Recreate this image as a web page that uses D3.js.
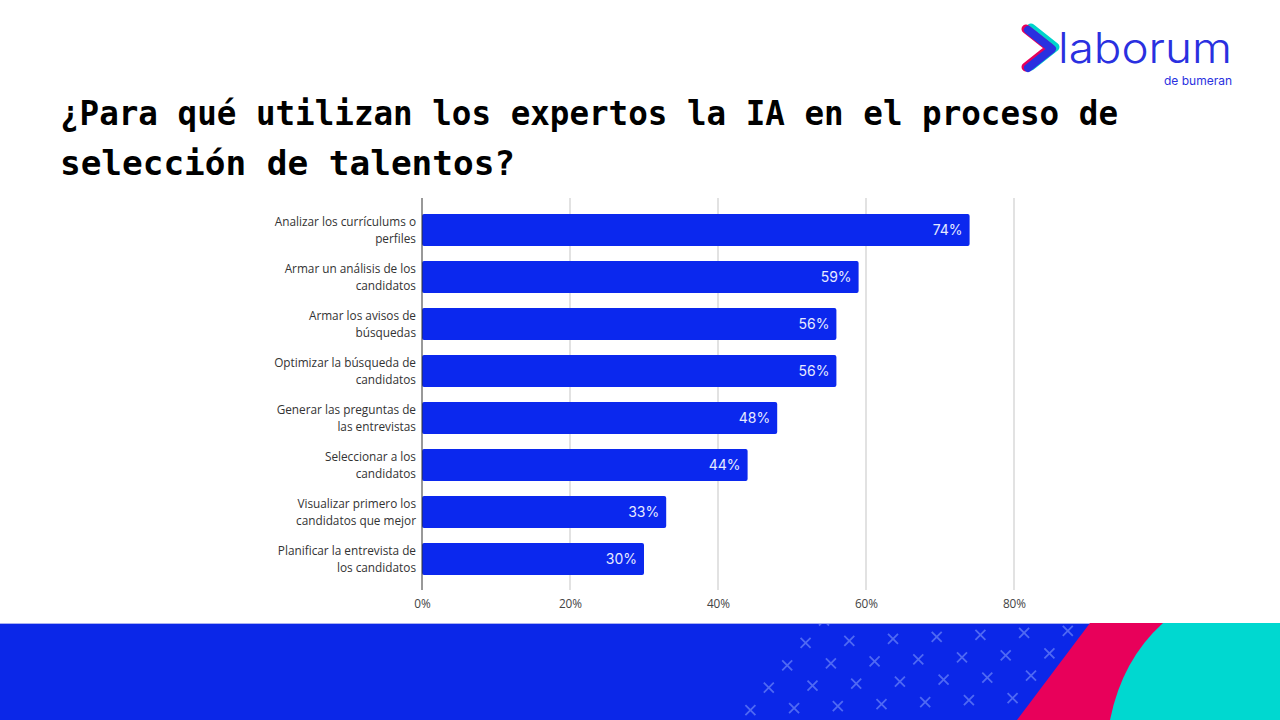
<!DOCTYPE html>
<html>
<head>
<meta charset="utf-8">
<script src="https://cdn.jsdelivr.net/npm/d3@7"></script>
<style>
 body { margin: 0; background: #fff; }
 svg { display: block; }
</style>
</head>
<body>
<script>
var width = 1280, height = 720;

// chart data
var categories = [
 "Analizar los currículums o\nperfiles",
 "Armar un análisis de los\ncandidatos",
 "Armar los avisos de\nbúsquedas",
 "Optimizar la búsqueda de\ncandidatos",
 "Generar las preguntas de\nlas entrevistas",
 "Seleccionar a los\ncandidatos",
 "Visualizar primero los\ncandidatos que mejor",
 "Planificar la entrevista de\nlos candidatos"
];
var values = [74, 59, 56, 56, 48, 44, 33, 30];
var ticks = [0, 20, 40, 60, 80];
var titleLines = [
 "¿Para qué utilizan los expertos la IA en el proceso de",
 "selección de talentos?"
];

var svg = d3.select('body').append('svg').attr('width', width).attr('height', height);

// title
svg.selectAll('text.title')
 .data(titleLines)
 .join('text')
 .attr('class', 'title')
 .attr('x', 60)
 .attr('y', function(d, i) { return 125 + i * 50; })
 .attr('font-family', 'DejaVu Sans Mono')
 .attr('font-weight', 'bold')
 .attr('font-size', 34)
 .attr('fill', '#000')
 .attr('textLength', function(d, i) { return i == 0 ? 1058 : 455; })
 .attr('lengthAdjust', 'spacingAndGlyphs')
 .text(function(d) { return d; });

// logo
var chevron = 'M1028,30 L1052,49 L1028,68';
var logo = svg.append('g');
[['#00d4cc', 3, -2, 9], ['#e8005a', -2, -1, 9], ['#2a30e0', 0, 0, 8]].forEach(function(c) {
 logo.append('path')
  .attr('d', chevron)
  .attr('fill', 'none').attr('stroke', c[0]).attr('stroke-width', c[3])
  .attr('stroke-linecap', 'round').attr('stroke-linejoin', 'round')
  .attr('transform', 'translate(' + c[1] + ',' + c[2] + ')');
});
logo.append('text')
 .attr('x', 1058).attr('y', 63)
 .attr('font-family', 'Inter').attr('font-weight', 300).attr('font-size', 42)
 .attr('fill', '#2a30e0')
 .attr('textLength', 174).attr('lengthAdjust', 'spacingAndGlyphs')
 .text('laborum');
logo.append('text')
 .attr('x', 1232).attr('y', 85)
 .attr('text-anchor', 'end')
 .attr('font-family', 'Inter').attr('font-size', 12)
 .attr('fill', '#2a30e0')
 .text('de bumeran');

// scales
var x = d3.scaleLinear().domain([0, 80]).range([422, 1014]);
var y = d3.scaleBand().domain(categories).range([206.5, 582.5]).paddingInner(0.32).paddingOuter(0.16);

// gridlines
svg.append('g')
 .selectAll('line')
 .data(ticks.slice(1))
 .join('line')
 .attr('x1', function(d) { return x(d); })
 .attr('x2', function(d) { return x(d); })
 .attr('y1', 198).attr('y2', 590)
 .attr('stroke', '#d9d9d9').attr('stroke-width', 1.5);

// bars
svg.append('g')
 .selectAll('rect')
 .data(values)
 .join('rect')
 .attr('x', x(0))
 .attr('y', function(d, i) { return y(categories[i]); })
 .attr('width', function(d) { return x(d) - x(0); })
 .attr('height', y.bandwidth())
 .attr('rx', 2)
 .attr('fill', '#0b28ee');

// value labels
svg.append('g')
 .selectAll('text')
 .data(values)
 .join('text')
 .attr('x', function(d) { return x(d) - 7; })
 .attr('y', function(d, i) { return y(categories[i]) + y.bandwidth() / 2 + 5; })
 .attr('text-anchor', 'end')
 .attr('font-family', 'Inter').attr('font-size', 14)
 .attr('fill', '#e6eaff')
 .text(function(d) { return d + '%'; });

// y axis line
svg.append('line')
 .attr('x1', x(0)).attr('x2', x(0))
 .attr('y1', 198).attr('y2', 590)
 .attr('stroke', '#333').attr('stroke-width', 1);

// category labels
var cat = svg.append('g')
 .selectAll('text')
 .data(categories)
 .join('text')
 .attr('text-anchor', 'end')
 .attr('font-family', 'Open Sans').attr('font-size', 11.8)
 .attr('fill', '#333')
 .attr('y', function(d) { return y(d) + y.bandwidth() / 2; });
cat.selectAll('tspan')
 .data(function(d) { return d.split('\n'); })
 .join('tspan')
 .attr('x', 416)
 .attr('dy', function(d, i) { return i == 0 ? -4 : 17; })
 .text(function(d) { return d; });

// x axis ticks
var xAxis = d3.axisBottom(x).tickValues(ticks).tickSize(0).tickFormat(function(d) { return d + '%'; });
var gx = svg.append('g').attr('transform', 'translate(0,592)').call(xAxis);
gx.select('.domain').remove();
gx.selectAll('text')
 .attr('font-family', 'Open Sans').attr('font-size', 11.8)
 .attr('fill', '#444').attr('dy', '1.1em');

// bottom band
var band = svg.append('g');
svg.append('clipPath').attr('id', 'bandclip')
 .append('rect').attr('x', 0).attr('y', 624).attr('width', width).attr('height', 96);
band.append('rect').attr('x', 0).attr('y', 623).attr('width', width).attr('height', 97).attr('fill', '#0b27e8');
band.append('line').attr('x1', 0).attr('x2', width).attr('y1', 623.5).attr('y2', 623.5).attr('stroke', '#a9b0f2').attr('stroke-width', 1);

// cross pattern (slanted lattice)
var crosses = [];
for (var r = 0; r < 5; r++) {
 for (var k = 0; k < 8; k++) {
  crosses.push({ x: 824 - r * 18.4 + k * 43.7, y: 620.5 + r * 22.4 - k * 2 });
 }
}
band.append('g')
 .attr('clip-path', 'url(#bandclip)')
 .selectAll('path')
 .data(crosses)
 .join('path')
 .attr('d', function(d) { return 'M' + (d.x - 5) + ',' + (d.y - 5) + 'L' + (d.x + 5) + ',' + (d.y + 5) + 'M' + (d.x + 5) + ',' + (d.y - 5) + 'L' + (d.x - 5) + ',' + (d.y + 5); })
 .attr('stroke', '#4f69f3').attr('stroke-width', 1.8);

band.append('path')
 .attr('d', 'M1090,623 L1280,623 L1280,720 L1017,720 Z')
 .attr('fill', '#e8005a');
band.append('path')
 .attr('d', 'M1163,623 L1280,623 L1280,720 L1110,720 Q1122,660 1163,623 Z')
 .attr('fill', '#00d8d0');

console.log('ready..');
</script>
</body>
</html>
